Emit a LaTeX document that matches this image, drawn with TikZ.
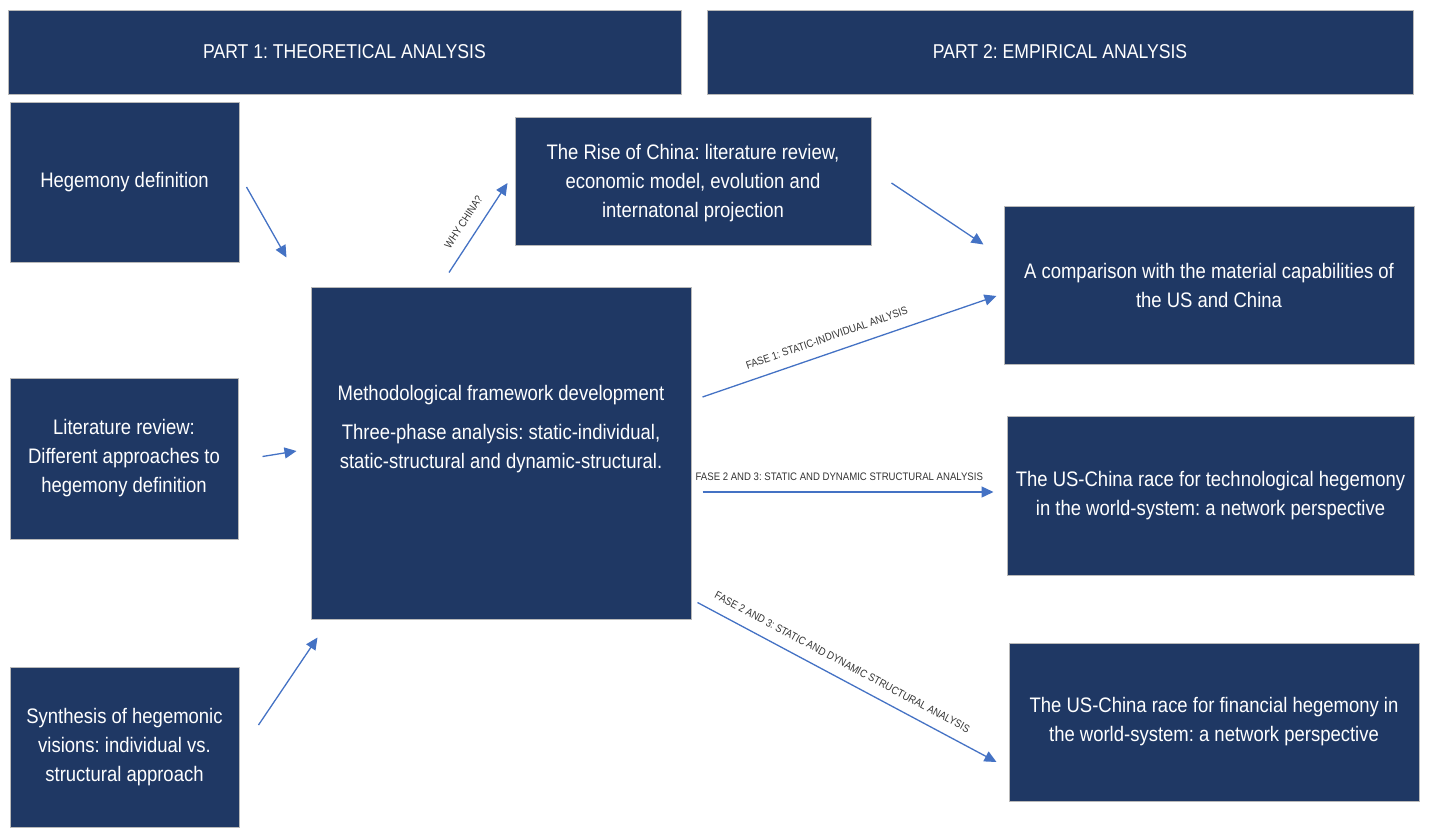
\documentclass[tikz,border=0pt]{standalone}
\usepackage{fontspec}
\setmainfont{Liberation Sans}[FakeStretch=0.88]
\usetikzlibrary{arrows.meta, positioning}
\definecolor{navy}{HTML}{1F3864}
\definecolor{flowblue}{HTML}{4472C4}
\frenchspacing
\tikzset{
	block/.style={draw=gray!55, line width=1pt, fill=navy, inner sep=0pt},
	boxtext/.style={align=center, text=white, font=\fontsize{21}{29}\selectfont},
	headtext/.style={text=white, font=\fontsize{20}{24}\selectfont},
	flow/.style={draw=flowblue, line width=1.3pt, -{Triangle[length=12pt,width=11pt]}},
	tag/.style={font=\fontsize{10.9}{12}\selectfont, text=black!80, sloped, above=10pt, inner sep=1pt}
}

\begin{document}
\begin{tikzpicture}[x=1pt, y=-1pt]
		\useasboundingbox (0,0) rectangle (1431,827);
		
		\node[block, minimum width=673pt, minimum height=84pt] (part1) at (344.5,52) {};
		\node[headtext] at (part1) {PART 1: THEORETICAL ANALYSIS};
		
		\node[block, minimum width=706pt, minimum height=84pt] (part2) at (1060,52) {};
		\node[headtext] at (part2) {PART 2: EMPIRICAL ANALYSIS};
		
		\node[block, minimum width=229pt, minimum height=160pt] (hegdef) at (124.5,182) {};
		\node[boxtext] at (hegdef) {Hegemony definition};
		
		\node[block, minimum width=228pt, minimum height=161pt] (litrev) at (124,458.5) {};
		\node[boxtext] at (litrev) {Literature review:\\Different approaches to\\hegemony definition};
		
		\node[block, minimum width=229pt, minimum height=160pt] (synth) at (124.5,747) {};
		\node[boxtext] at (synth) {Synthesis of hegemonic\\visions: individual vs.\\structural approach};
		
		\node[block, minimum width=380pt, minimum height=332pt] (method) at (501,453) {};
		\node[boxtext, yshift=24pt] at (method) {Methodological framework development\\[10pt]Three-phase analysis: static-individual,\\static-structural and dynamic-structural.};
		
		\node[block, minimum width=356pt, minimum height=128pt] (rise) at (693,181) {};
		\node[boxtext, yshift=-2pt] at (rise) {The Rise of China: literature review,\\economic model, evolution and\\internatonal projection};
		
		\node[block, minimum width=410pt, minimum height=158pt] (compare) at (1209,285) {};
		\node[boxtext] at (compare) {A comparison with the material capabilities of\\the US and China};
		
		\node[block, minimum width=407pt, minimum height=159pt] (techrace) at (1210.5,495.5) {};
		\node[boxtext] at (techrace) {The US-China race for technological hegemony\\in the world-system: a network perspective};
		
		\node[block, minimum width=410pt, minimum height=158pt] (finrace) at (1214,722) {};
		\node[boxtext] at (finrace) {The US-China race for financial hegemony in\\the world-system: a network perspective};
		
		% part 1 into the framework
		\draw[flow] ([shift={(7,5)}]hegdef.east) -- ([shift={(-24,-29)}]method.north west);
		\draw[flow] ([shift={(24,-2)}]litrev.east) -- ([shift={(-14,-2)}]method.west);
		\draw[flow] ([shift={(19,-22)}]synth.east) -- ([shift={(7,18)}]method.south west);
		
		% framework out to part 2
		\draw[flow] ([shift={(-52,-14)}]method.north) -- ([shift={(-7,2)}]rise.west)
			node[tag, pos=0.47] {WHY CHINA?};
		\draw[flow] ([shift={(20,2)}]rise.east) -- ([shift={(-20,39)}]compare.north west);
		\draw[flow] ([shift={(11,-56)}]method.east) -- ([shift={(-7,11)}]compare.west)
			node[tag, pos=0.44] {FASE 1: STATIC-INDIVIDUAL ANLYSIS};
		\draw[flow] ([shift={(11,39)}]method.east) -- ([shift={(-13,-3.5)}]techrace.west)
			node[tag, pos=0.47] {FASE 2 AND 3: STATIC AND DYNAMIC STRUCTURAL ANALYSIS};
		\draw[flow] ([shift={(6,-17)}]method.south east) -- ([shift={(-12,40)}]finrace.west)
			node[tag, pos=0.46] {FASE 2 AND 3: STATIC AND DYNAMIC STRUCTURAL ANALYSIS};
	\end{tikzpicture}
\end{document}
